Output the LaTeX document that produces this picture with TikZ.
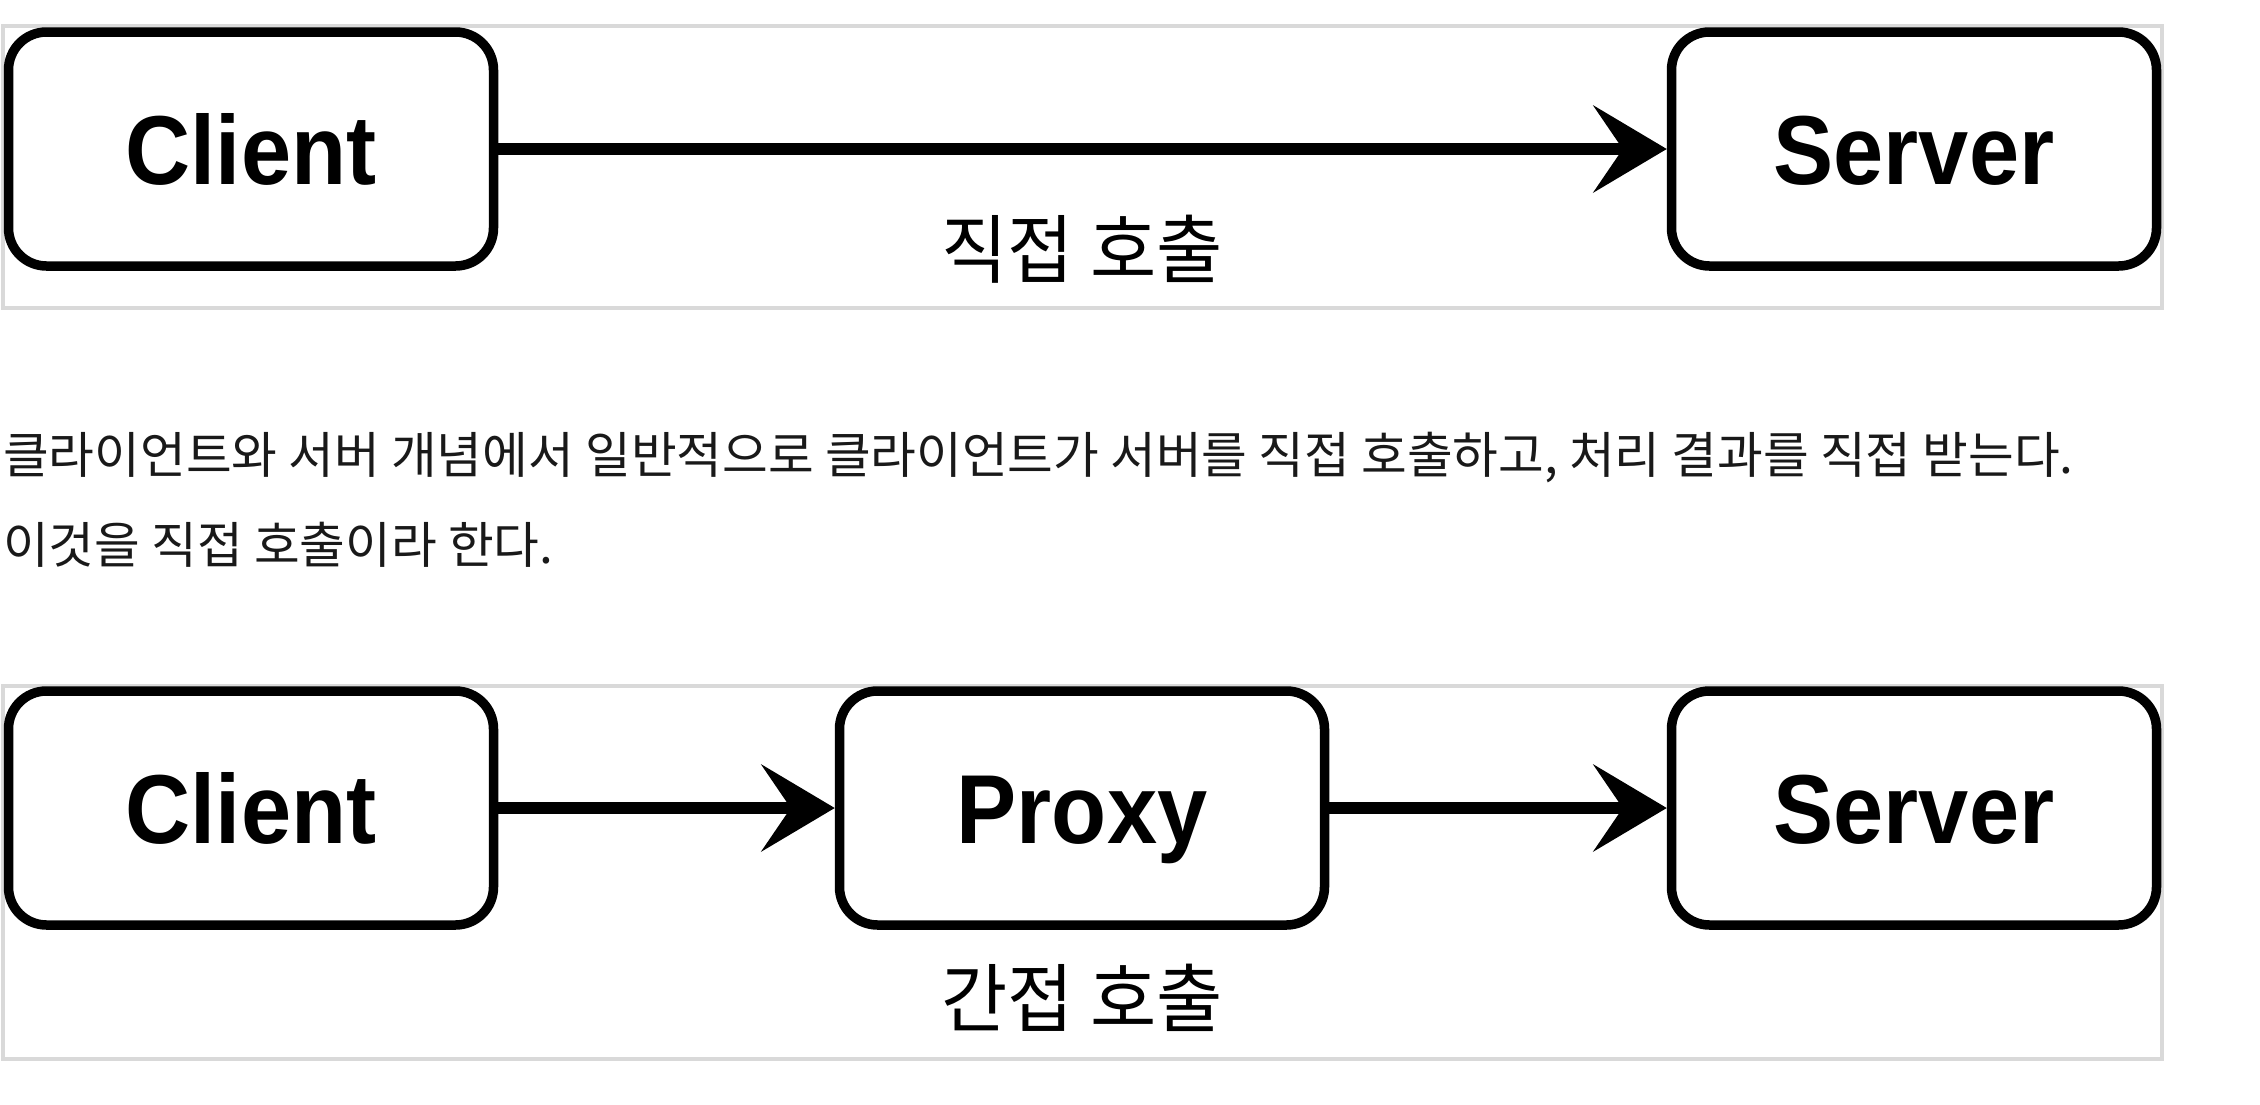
\documentclass[tikz,border=0pt]{standalone}
\usepackage{fontspec}
\usetikzlibrary{arrows.meta}
\newfontfamily\kr{Noto Sans CJK KR}
\newfontfamily\krlabel[FakeStretch=0.96]{Noto Sans CJK KR}
\newfontfamily\boxfont[FakeStretch=0.92]{Liberation Sans}
\definecolor{framegray}{HTML}{D9D9D9}
\tikzset{
  frame/.style={draw=framegray, line width=4pt},
  entity/.style={draw=black, line width=9.5pt, rounded corners=38pt,
    minimum width=485pt, minimum height=234pt, inner sep=0pt,
    text height=70pt, text depth=0pt,
    font=\boxfont\bfseries\fontsize{98}{110}\selectfont},
  callarrow/.style={draw=black, line width=12pt,
    -{Stealth[length=74pt, width=88pt, inset=30pt, line width=0pt]}},
  calllabel/.style={inner sep=0pt, font=\krlabel\fontsize{75}{85}\selectfont},
  para/.style={inner sep=0pt, anchor=base west, font=\kr\fontsize{49.7}{60}\selectfont, text=black!90}
}
\begin{document}
\begin{tikzpicture}[x=1pt, y=-1pt]
  \useasboundingbox (0,0) rectangle (2260,1104);
  % top panel
  \draw[frame] (3,26) rectangle (2162,308);
  \node[entity] (c1) at (251,149) {Client};
  \node[entity] (s1) at (1914,149) {Server};
  \draw[callarrow] (c1) -- (s1);
  \node[calllabel] (l1) at (1082,249) {직접 호출};
  % paragraph
  \node[para] (p1) at (3,473) {클라이언트와 서버 개념에서 일반적으로 클라이언트가 서버를 직접 호출하고, 처리 결과를 직접 받는다.};
  \node[para] (p2) at (3,563) {이것을 직접 호출이라 한다.};
  % bottom panel
  \draw[frame] (3,686) rectangle (2162,1059);
  \node[entity] (c2) at (251,808) {Client};
  \node[entity] (p) at (1082,808) {Proxy};
  \node[entity] (s2) at (1914,808) {Server};
  \draw[callarrow] (c2) -- (p);
  \draw[callarrow] (p) -- (s2);
  \node[calllabel] (l2) at (1082,998) {간접 호출};
\end{tikzpicture}
\end{document}
